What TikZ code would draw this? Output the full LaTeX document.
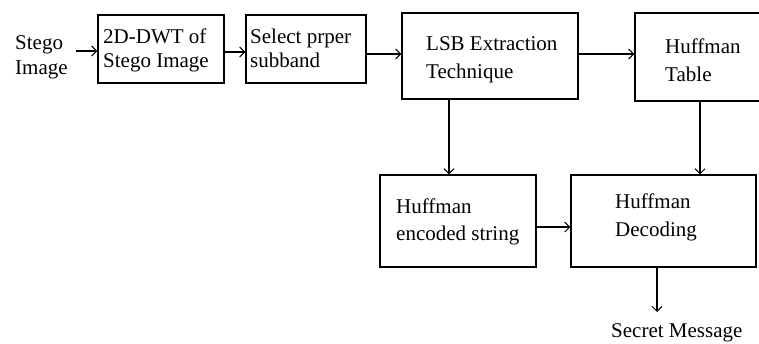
\documentclass[tikz,border=0pt]{standalone}
\usepackage{fontspec}
\setmainfont{Liberation Serif}
\usetikzlibrary{arrows.meta}
\begin{document}
\begin{tikzpicture}[x=1pt,y=-1pt,
  blk/.style={draw,line width=1.2pt,inner sep=0pt},
  lbl/.style={inner sep=0pt,anchor=base west,font=\fontsize{21}{24}\selectfont},
  flow/.style={line width=1.2pt,-{Straight Barb[length=5pt,width=10pt,line width=1pt]}}]
\useasboundingbox (0,0) rectangle (759,343);

% boxes
\node[blk,minimum width=126pt,minimum height=68pt] (dwt) at (161,49) {};
\node[blk,minimum width=120pt,minimum height=68pt] (sel) at (306,49) {};
\node[blk,minimum width=176pt,minimum height=86pt] (lsb) at (490,56) {};
\node[blk,minimum width=127pt,minimum height=88pt] (tab) at (698.5,57) {};
\node[blk,minimum width=156pt,minimum height=92pt] (enc) at (458,221) {};
\node[blk,minimum width=185pt,minimum height=92pt] (dec) at (663.5,221) {};

% texts
\node[lbl] (stego1) at (15,49) {Stego};
\node[lbl] (stego2) at (15,74) {Image};
\node[lbl] (dwt1) at (103,43) {2D-DWT of};
\node[lbl] (dwt2) at (103,67) {Stego Image};
\node[lbl] (sel1) at (250,43) {Select prper};
\node[lbl] (sel2) at (250,67) {subband};
\node[lbl] (lsb1) at (426,50) {LSB Extraction};
\node[lbl] (lsb2) at (426,78) {Technique};
\node[lbl] (tab1) at (665,53) {Huffman};
\node[lbl] (tab2) at (665,81) {Table};
\node[lbl] (enc1) at (396,213) {Huffman};
\node[lbl] (enc2) at (396,240) {encoded string};
\node[lbl] (dec1) at (615,208) {Huffman};
\node[lbl] (dec2) at (615,236) {Decoding};
\node[lbl] (secret) at (611,337) {Secret Message};

% connectors
\coordinate (s) at (76,51);
\draw[flow] (s) -- (s -| dwt.west);
\draw[flow] (dwt.east |- 0,52) -- (sel.west |- 0,52);
\draw[flow] (sel.east |- 0,54) -- (lsb.west |- 0,54);
\draw[flow] (lsb.east |- 0,54) -- (tab.west |- 0,54);
\draw[flow] (lsb.south -| 449,0) -- (enc.north -| 449,0);
\draw[flow] (tab.south -| 700,0) -- (dec.north -| 700,0);
\draw[flow] (enc.east |- 0,227) -- (dec.west |- 0,227);
\draw[flow] (dec.south -| 657,0) -- (657,312);
\end{tikzpicture}
\end{document}
